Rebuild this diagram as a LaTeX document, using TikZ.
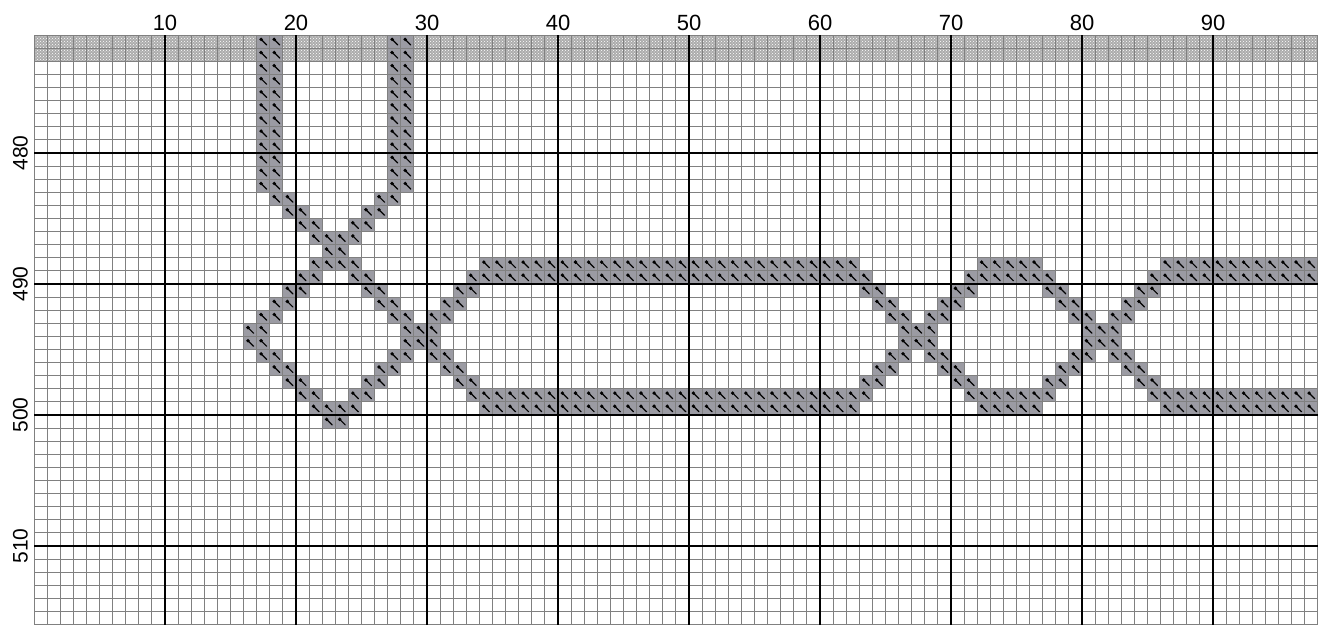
\documentclass[tikz,border=0pt]{standalone}
\usepackage{fontspec}
\setmainfont{Liberation Sans}
\usetikzlibrary{patterns}
\definecolor{stitchgray}{RGB}{155,155,163}
\definecolor{gridgray}{RGB}{128,128,128}
\tikzset{
  stitchcell/.style={fill=stitchgray},
  stitchmark/.style={black,line width=1.2pt,line cap=round},
  minorline/.style={gridgray,line width=1pt},
  majorline/.style={black,line width=2.2pt},
  axislabel/.style={font=\fontsize{21}{22}\selectfont,inner sep=0pt},
  collabel/.style={font=\fontsize{22}{23}\selectfont,inner sep=0pt}
}
\newcommand\st[2]{%
  \fill[stitchcell] ({34+(#1-1)*13.1},{35+#2*13.1}) rectangle ++(13.1,13.1);
  \fill[black] ({34+(#1-1)*13.1+4.4},{35+#2*13.1+4.4}) circle (1.9);
  \draw[stitchmark] ({34+(#1-1)*13.1+4.4},{35+#2*13.1+4.4}) -- ++(5.6,5.6);
}
\newcommand\run[3]{\foreach \cc in {#2,...,#3}{\st{\cc}{#1}}}
\begin{document}
\begin{tikzpicture}[x=1pt,y=-1pt]
\useasboundingbox (0,0) rectangle (1331,625);
\fill[white] (0,0) rectangle (1331,625);
% shaded band
\fill[gray!65] (34,35) rectangle (1317.8,61.2);
\fill[pattern=crosshatch dots,pattern color=white] (34,35) rectangle (1317.8,61.2);
% stitches
\foreach \r in {0,...,11}{\run{\r}{18}{19}\run{\r}{28}{29}}
\run{12}{19}{20}\run{12}{27}{28}
\run{13}{20}{21}\run{13}{26}{27}
\run{14}{21}{22}\run{14}{25}{26}
\run{15}{22}{25}
\run{16}{23}{24}
\run{17}{22}{25}\run{17}{35}{63}\run{17}{73}{77}\run{17}{87}{98}
\run{18}{21}{22}\run{18}{25}{26}\run{18}{34}{64}\run{18}{72}{78}\run{18}{86}{98}
\foreach \r in {19,26}{\run{\r}{20}{21}\run{\r}{26}{27}\run{\r}{33}{34}\run{\r}{64}{65}\run{\r}{71}{72}\run{\r}{78}{79}\run{\r}{85}{86}}
\foreach \r in {20,25}{\run{\r}{19}{20}\run{\r}{27}{28}\run{\r}{32}{33}\run{\r}{65}{66}\run{\r}{70}{71}\run{\r}{79}{80}\run{\r}{84}{85}}
\foreach \r in {21,24}{\run{\r}{18}{19}\run{\r}{28}{29}\run{\r}{31}{32}\run{\r}{66}{67}\run{\r}{69}{70}\run{\r}{80}{81}\run{\r}{83}{84}}
\foreach \r in {22,23}{\run{\r}{17}{18}\run{\r}{29}{31}\run{\r}{67}{69}\run{\r}{81}{83}}
\run{27}{21}{22}\run{27}{25}{26}\run{27}{34}{64}\run{27}{72}{78}\run{27}{86}{98}
\run{28}{22}{25}\run{28}{35}{63}\run{28}{73}{77}\run{28}{87}{98}
\run{29}{23}{24}
% minor grid
\foreach \i in {0,...,98}{\draw[minorline] ({34+\i*13.1},35) -- ({34+\i*13.1},624.5);}
\foreach \j in {0,...,45}{\draw[minorline] (34,{35+\j*13.1}) -- (1317.8,{35+\j*13.1});}
% major grid
\foreach \k in {1,...,9}{\draw[majorline] ({34+\k*131},35) -- ({34+\k*131},624.5);}
\foreach \j in {9,19,29,39}{\draw[majorline] (34,{35+\j*13.1}) -- (1317.8,{35+\j*13.1});}
% labels
\foreach \k in {1,...,9}{\node[collabel] (c\k) at ({34+\k*131},22.5) {\the\numexpr\k*10\relax};}
\foreach \j/\t in {9/480,19/490,29/500,39/510}{\node[axislabel,rotate=90] (r\t) at (20.5,{35+\j*13.1}) {\t};}
\end{tikzpicture}
\end{document}
